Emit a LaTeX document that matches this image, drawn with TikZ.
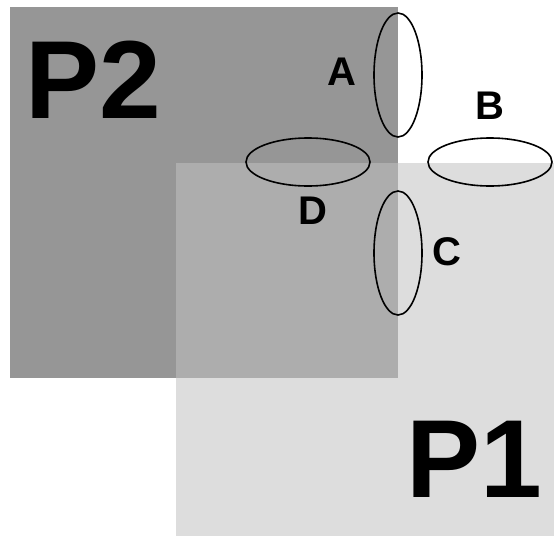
\documentclass[tikz,border=0pt]{standalone}
\usepackage{fontspec}
\setmainfont{Liberation Sans}

\definecolor{lightzone}{HTML}{DDDDDD}
\definecolor{darkzone}{HTML}{969696}
\definecolor{bothzone}{HTML}{ADADAD}

\begin{document}
\begin{tikzpicture}[x=1pt, y=-1pt, line join=round, line cap=round,
    ring/.style={draw=black, line width=1.6pt},
    tag/.style={inner sep=0pt, font=\fontsize{40}{40}\selectfont\bfseries},
    bigtag/.style={inner sep=0pt, font=\fontsize{111}{111}\selectfont\bfseries}]
    % --- CANVAS ---
    \useasboundingbox[fill=white] (0,0) rectangle (554,536);

    % --- REGIONS ---
    % P1 at the bottom right, P2 at the top left, shared part in between
    \fill[lightzone] (176,163) rectangle (554,536);
    \fill[darkzone] (10,7) rectangle (398,378);
    \fill[bothzone] (176,163) rectangle (398,378);

    % --- BOUNDARY ZONES ---
    \draw[ring] (398,75) ellipse [x radius=24, y radius=62];
    \draw[ring] (490,162) ellipse [x radius=62, y radius=24];
    \draw[ring] (398,253) ellipse [x radius=24, y radius=62];
    \draw[ring] (308,162) ellipse [x radius=62, y radius=24];

    % --- LABELS ---
    \node[bigtag] (p2) at (93,80) {P2};
    \node[bigtag] (p1) at (474,459) {P1};
    \node[tag] (a) at (342,72) {A};
    \node[tag] (b) at (490,106) {B};
    \node[tag] (c) at (447,252) {C};
    \node[tag] (d) at (313,211) {D};

\end{tikzpicture}
\end{document}
